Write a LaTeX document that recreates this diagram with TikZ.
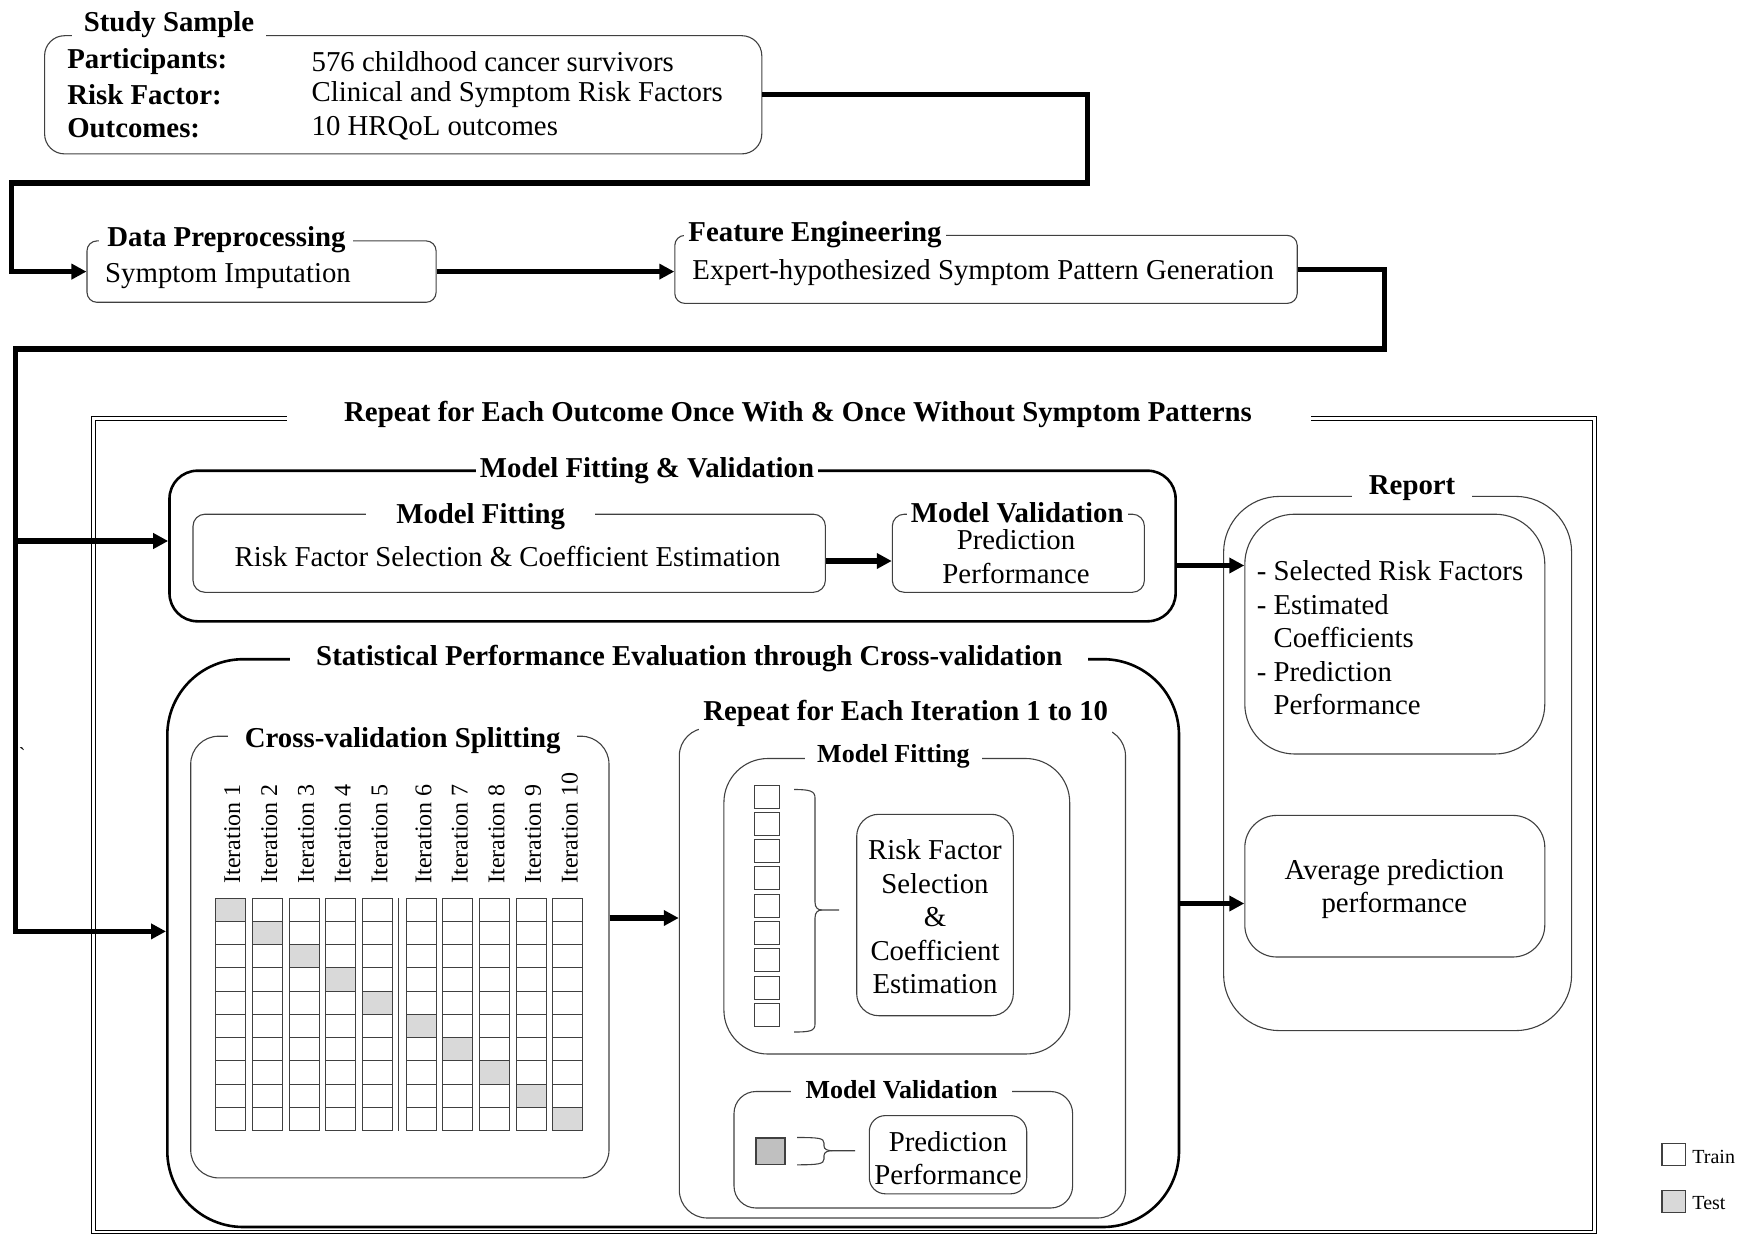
\documentclass[tikz,border=0pt]{standalone}
\usepackage{fontspec}
\setmainfont{Liberation Serif}
\usetikzlibrary{arrows.meta,fit}
\definecolor{cellgray}{HTML}{D9D9D9}
\definecolor{sqgray}{HTML}{C0C0C0}
\definecolor{linegray}{HTML}{404040}
\begin{document}
\begin{tikzpicture}[x=0.5pt,y=-0.5pt,
  basefont/.style={font=\fontsize{14.4}{16.75}\selectfont},
  txt/.style={basefont, inner sep=0pt, align=center, yshift=-1.2pt},
  btxt/.style={txt, font=\fontsize{14.4}{16.75}\selectfont\bfseries},
  ttl/.style={font=\fontsize{14.4}{16.75}\selectfont\bfseries, fill=white, inner ysep=3pt, inner xsep=4pt, yshift=-1pt},
  sttl/.style={ttl, font=\fontsize{13}{15}\selectfont\bfseries},
  box/.style={draw=linegray, line width=0.55pt, inner sep=0pt},
  bigbox/.style={draw=black, line width=1.3pt, inner sep=0pt},
  arr/.style={line width=2.7pt, -{Triangle[length=7.5pt,width=7.5pt]}},
  cell/.style={draw=linegray, line width=0.5pt},
  itx/.style={font=\fontsize{12}{14}\selectfont, rotate=90, anchor=west, inner sep=0pt},
  brc/.style={draw=linegray, line width=0.55pt},
]
\useasboundingbox (0,0) rectangle (1749,1235);

% ---------- Study sample ----------
\node[box, rounded corners=10pt, fit={(44.6,35.7) (761.8,153.9)}] (ss) {};
\node[ttl, inner xsep=6pt] (ssT) at (169,22.3) {Study Sample};
\node[btxt, anchor=west] (l1) at (66.9,59.1) {Participants:};
\node[btxt, anchor=west] (l2) at (66.9,92.6) {Risk Factor:};
\node[btxt, anchor=west] (l3) at (66.9,126) {Outcomes:};
\node[txt, anchor=west] (v1) at (311.2,59.1) {576 childhood cancer survivors};
\node[txt, anchor=west] (v2) at (311.2,92.6) {Clinical and Symptom Risk Factors};
\node[txt, anchor=west] (v3) at (311.2,126) {10 HRQoL outcomes};

% ---------- Data preprocessing / feature engineering ----------
\node[box, rounded corners=5pt, fit={(87,240.9) (436.1,302.3)}] (dp) {};
\node[ttl] (dpT) at (226.4,237.6) {Data Preprocessing};
\node[txt, anchor=west] (dpt) at (104.8,273.3) {Symptom Imputation};

\node[box, rounded corners=5pt, fit={(674.8,235.4) (1297.2,303.4)}] (fe) {};
\node[ttl, inner xsep=2pt] (feT) at (815,233.1) {Feature Engineering};
\node[txt] (fet) at (983.2,269.9) {Expert-hypothesized Symptom Pattern Generation};

% ---------- outer frame ----------
\draw[double, double distance=1.3pt, line width=0.45pt]
  (286.7,418.5) -- (93.5,418.5) -- (93.5,1232) -- (1594.5,1232) -- (1594.5,418.5) -- (1310.6,418.5);
\node[btxt] (rptT) at (798,411.6) {Repeat for Each Outcome Once With \& Once Without Symptom Patterns};

% ---------- Model fitting & validation ----------
\node[bigbox, rounded corners=14pt, fit={(169.5,470.7) (1175.6,621.3)}] (mfv) {};
\node[ttl, inner xsep=2pt] (mfvT) at (647,468.5) {Model Fitting \& Validation};
\node[box, rounded corners=6pt, fit={(193,514.2) (825.4,592.3)}] (mf) {};
\node[ttl, inner xsep=15pt] (mfT) at (480.7,514.2) {Model Fitting};
\node[txt] (mft) at (507.5,554.4) {Risk Factor Selection \& Coefficient Estimation};
\node[box, rounded corners=6pt, fit={(892.3,514.2) (1144.4,592.3)}] (mv) {};
\node[ttl, inner xsep=2pt] (mvT) at (1017.2,510.9) {Model Validation};
\node[txt] (mvt) at (1016,554.3) {Prediction\\Performance};

% ---------- Report ----------
\node[box, rounded corners=28pt, fit={(1223.6,496.4) (1571.6,1030.6)}] (rep) {};
\node[ttl, inner xsep=8.5pt] (repT) at (1412.1,486.3) {Report};
\node[box, rounded corners=25pt, fit={(1244.8,514.2) (1544.8,754)}] (rep1) {};
\node[txt, align=left] (rep1t) at (1390,635.5) {- Selected Risk Factors\\- Estimated\\\phantom{-} Coefficients\\- Prediction\\\phantom{-} Performance};
\node[box, rounded corners=16pt, fit={(1244.8,815.4) (1544.8,957)}] (rep2) {};
\node[txt] (rep2t) at (1394.3,886.8) {Average prediction\\performance};

% ---------- Statistical performance evaluation ----------
\node[bigbox, rounded corners=38pt, fit={(167.3,659.2) (1179,1227)}] (spe) {};
\node[ttl, inner xsep=13pt] (speT) at (689.3,657) {Statistical Performance Evaluation through Cross-validation};

\node[box, rounded corners=14pt, fit={(190.7,736.2) (609,1177.9)}] (cvs) {};
\node[ttl, inner xsep=8.5pt] (cvsT) at (402.7,738.4) {Cross-validation Splitting};

\foreach \cx [count=\n] in {215.3,252.3,289.1,325.7,362.5,406.5,442.8,479.5,516,552.8}{
  \pgfmathtruncatemacro{\sh}{\n-1}
  \foreach \r in {0,...,9}{
    \ifnum\r=\sh
      \draw[cell, fill=cellgray] (\cx,898+23.25*\r) rectangle ++(30,23.25);
    \else
      \draw[cell] (\cx,898+23.25*\r) rectangle ++(30,23.25);
    \fi
  }
  \node[itx] (it\n) at (\cx+17,884) {Iteration \n};
}
\draw[cell] (398.6,898) -- (398.6,1130.5);

% ---------- Repeat for each iteration ----------
\node[box, rounded corners=14pt, fit={(679.3,728) (1125.5,1218)}] (ri) {};
\node[ttl, inner xsep=2pt, inner ysep=4pt] (riT) at (905.7,711) {Repeat for Each Iteration 1 to 10};

\node[box, rounded corners=22pt, fit={(723.9,758.5) (1069.7,1054)}] (mf2) {};
\node[sttl, inner xsep=6.3pt] (mf2T) at (893.4,754) {Model Fitting};
\foreach \k in {0,...,8}{
  \draw[cell] (754.3,785+27.33*\k) rectangle ++(25,23);
}
\draw[brc] (794,789.5) .. controls (810,789.5) and (815,791) .. (815,798) -- (815,902)
  .. controls (815,908) and (818,910) .. (822,910) -- (839,910);
\draw[brc] (822,910) .. controls (818,910) and (815,912) .. (815,918) -- (815,1024)
  .. controls (815,1031) and (810,1032) .. (794,1032);
\node[box, rounded corners=11pt, fit={(856.7,814.3) (1013.3,1015.7)}] (rf) {};
\node[txt] (rft) at (935,914.6) {Risk Factor\\Selection\\\&\\Coefficient\\Estimation};

\node[box, rounded corners=11pt, fit={(734,1091.5) (1072.6,1208)}] (mv2) {};
\node[sttl, inner xsep=7.5pt] (mv2T) at (901.5,1088) {Model Validation};
\node[draw=linegray, line width=0.55pt, fill=sqgray, inner sep=0pt, fit={(756,1138) (785,1164.5)}] (tsq) {};
\draw[brc] (797,1137.5) .. controls (818,1137.5) and (824,1138) .. (824,1143) -- (824,1146)
  .. controls (824,1149.5) and (828,1150.7) .. (832,1150.7) -- (855,1150.7);
\draw[brc] (832,1150.7) .. controls (828,1150.7) and (824,1152) .. (824,1155.5) -- (824,1159)
  .. controls (824,1164) and (818,1164.8) .. (797,1164.8);
\node[box, rounded corners=8pt, fit={(869.3,1115.6) (1026.7,1193.8)}] (pp) {};
\node[txt] (ppt) at (948,1155.7) {Prediction\\Performance};

% ---------- legend ----------
\node[draw=linegray, line width=0.55pt, inner sep=0pt, fit={(1662,1143.3) (1685.4,1165.6)}] (lgtr) {};
\node[font=\fontsize{10}{12}\selectfont, anchor=west, inner sep=0pt] (lgtrt) at (1692,1156.6) {Train};
\node[draw=linegray, line width=0.55pt, fill=cellgray, inner sep=0pt, fit={(1662,1190.1) (1685.4,1212.4)}] (lgte) {};
\node[font=\fontsize{10}{12}\selectfont, anchor=west, inner sep=0pt] (lgtet) at (1692,1203.4) {Test};

\node[font=\fontsize{10}{12}\selectfont, inner sep=0pt] (tick) at (22.3,755) {\textasciigrave};

% ---------- connectors ----------
\coordinate (c1) at (1087.5,182.9);
\coordinate (c2) at (11.2,182.9);
\draw[arr] (ss.east) -| (c1) -- (c2) |- (dp.west);
\draw[arr] (dp.east) -- (dp.east -| fe.west);

\coordinate (c3) at (1384.2,349.1);
\coordinate (c4) at (15.6,349.1);
\coordinate (c5) at (15.6,931.4);
\coordinate (c6) at (15.6,541);
\draw[arr] (fe.east) -| (c3) -- (c4) -- (c5) -- (c5 -| spe.west);
\draw[arr] (c6) -- (c6 -| mfv.west);

\coordinate (y1) at (0,561);
\draw[arr] (mf.east |- y1) -- (mv.west |- y1);
\coordinate (y2) at (0,565.5);
\draw[arr] (mfv.east |- y2) -- (rep1.west |- y2);
\coordinate (y3) at (0,903.5);
\draw[arr] (spe.east |- y3) -- (rep2.west |- y3);
\coordinate (y4) at (0,918);
\draw[arr] (cvs.east |- y4) -- (ri.west |- y4);
\end{tikzpicture}
\end{document}
